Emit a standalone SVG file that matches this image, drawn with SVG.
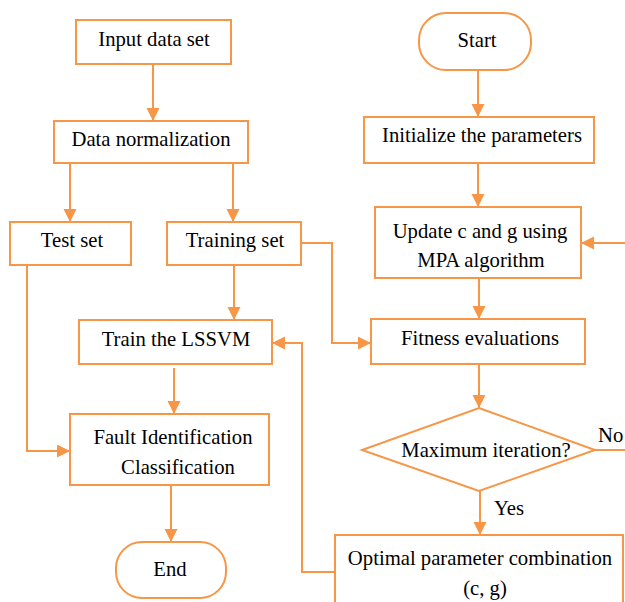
<svg xmlns="http://www.w3.org/2000/svg" width="625" height="602" viewBox="0 0 625 602">
<defs>
<style>
.box{fill:#fff;stroke:#F79646;stroke-width:2}
.ln{fill:none;stroke:#F79646;stroke-width:2}
text{font-family:"Liberation Serif","Times New Roman","DejaVu Serif",serif;font-size:20.7px;fill:#000;text-anchor:middle}
.lbl{text-anchor:start}
</style>
<marker id="ah" markerUnits="userSpaceOnUse" markerWidth="14" markerHeight="14" refX="13" refY="6.5" orient="auto">
<path d="M0,0 L13,6.5 L0,13 z" fill="#F79646"/>
</marker>
</defs>
<rect width="625" height="602" fill="#fff"/>
<g id="connectors">
<path class="ln" d="M153,64 V121" marker-end="url(#ah)"/>
<path class="ln" d="M70,163 V222" marker-end="url(#ah)"/>
<path class="ln" d="M233,164 V222" marker-end="url(#ah)"/>
<path class="ln" d="M301,243 H332 V343 H371" marker-end="url(#ah)"/>
<path class="ln" d="M234,266 V320" marker-end="url(#ah)"/>
<path class="ln" d="M27,265 V451 H70" marker-end="url(#ah)"/>
<path class="ln" d="M174,368 V414" marker-end="url(#ah)"/>
<path class="ln" d="M171,485 V542" marker-end="url(#ah)"/>
<path class="ln" d="M335,572 H302 V343 H272" marker-end="url(#ah)"/>
<path class="ln" d="M478,70 V117" marker-end="url(#ah)"/>
<path class="ln" d="M478,163 V207" marker-end="url(#ah)"/>
<path class="ln" d="M625,243 H581" marker-end="url(#ah)"/>
<path class="ln" d="M479,278 V319" marker-end="url(#ah)"/>
<path class="ln" d="M479,364 V408" marker-end="url(#ah)"/>
<path class="ln" d="M595,450 H625"/>
<path class="ln" d="M480,491 V535" marker-end="url(#ah)"/>
</g>
<g id="input"><rect class="box" x="76" y="20" width="155" height="44"/><text x="154" y="46">Input data set</text></g>
<g id="normalize"><rect class="box" x="54" y="121" width="194" height="42"/><text x="151" y="146">Data normalization</text></g>
<g id="testset"><rect class="box" x="10" y="222" width="121" height="43"/><text x="72" y="247">Test set</text></g>
<g id="trainingset"><rect class="box" x="167" y="222" width="134" height="43"/><text x="235" y="247">Training set</text></g>
<g id="train"><rect class="box" x="79" y="320" width="193" height="44"/><text x="176" y="346">Train the LSSVM</text></g>
<g id="fault"><rect class="box" x="70" y="414" width="199" height="71"/><text x="173" y="444">Fault Identification</text><text x="178" y="474">Classification</text></g>
<g id="end"><rect class="box" x="116" y="542" width="110" height="56" rx="26" ry="26"/><text x="170" y="576">End</text></g>
<g id="start"><rect class="box" x="419" y="13" width="112" height="57" rx="27" ry="27"/><text x="477" y="47">Start</text></g>
<g id="init"><rect class="box" x="364" y="117" width="230" height="46"/><text x="482" y="142">Initialize the parameters</text></g>
<g id="update"><rect class="box" x="375" y="207" width="206" height="71"/><text x="480" y="238">Update c and g using</text><text x="481" y="267">MPA algorithm</text></g>
<g id="fitness"><rect class="box" x="371" y="319" width="214" height="45"/><text x="480" y="345">Fitness evaluations</text></g>
<g id="decision"><polygon class="box" points="479,408 595,450 479,491 362,450"/><text x="486" y="457">Maximum iteration?</text></g>
<g id="optimal"><rect class="box" x="335" y="535" width="288" height="80"/><text x="480" y="565">Optimal parameter combination</text><text x="485" y="595">(c, g)</text></g>
<g id="labels"><text class="lbl" x="598" y="442">No</text><text class="lbl" x="494" y="515">Yes</text></g>
</svg>
